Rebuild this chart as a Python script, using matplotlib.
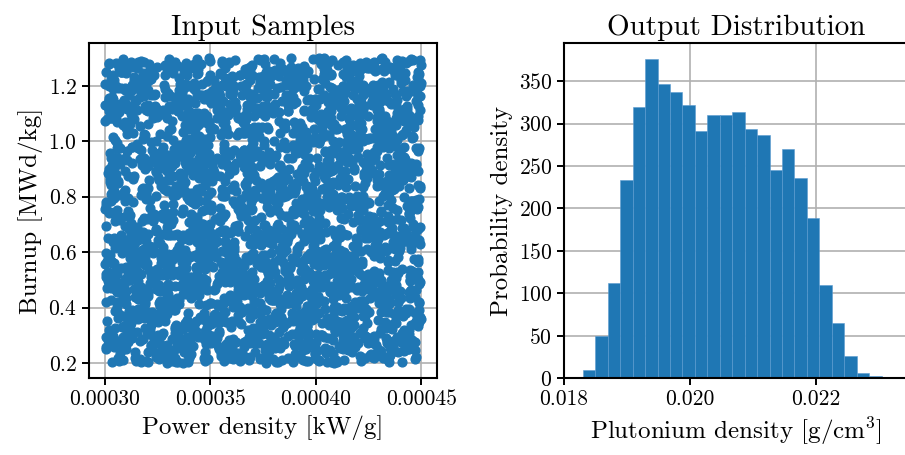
import numpy as np
import matplotlib
matplotlib.use("Agg")
import matplotlib.pyplot as plt

plt.rcParams['font.family'] = 'serif'
plt.rcParams['font.serif'] = ['cmr10']
plt.rcParams['mathtext.fontset'] = 'cm'
plt.rcParams['axes.formatter.use_mathtext'] = True
plt.rcParams['axes.axisbelow'] = True

# input samples: ranges
power_range = [0.00030, 0.00045]   # kW/g
burnup_range = [0.2, 1.3]          # MWd/kg
n_samples = 2800

# output histogram (probability density per bin)
bin_lo, bin_hi = 0.01830, 0.02304
density = [10, 50, 112, 233, 319, 376, 347, 337, 322, 291, 310, 310,
           314, 294, 287, 245, 270, 236, 189, 110, 65, 26, 6, 2]

# individual sample positions cannot be read from the image, so the cloud
# is a uniform sample over the ranges shown
rng = np.random.default_rng(7)
power = rng.uniform(power_range[0], power_range[1], n_samples)
burnup = rng.uniform(burnup_range[0], burnup_range[1], n_samples)

fig = plt.figure(figsize=(9.05, 4.55), dpi=100)
ax1 = fig.add_axes([0.0983, 0.1692, 0.3845, 0.7363])
ax2 = fig.add_axes([0.6232, 0.1692, 0.3801, 0.7363])

ax1.scatter(power, burnup, s=40, color='#1f77b4', zorder=2)
ax1.set_title('Input Samples', fontsize=21)
ax1.set_xlabel('Power density [kW/g]', fontsize=18)
ax1.set_ylabel('Burnup [MWd/kg]', fontsize=18)
ax1.set_xticks([0.00030, 0.00035, 0.00040, 0.00045])
ax1.set_xticklabels(['0.00030', '0.00035', '0.00040', '0.00045'])
ax1.set_yticks([0.2, 0.4, 0.6, 0.8, 1.0, 1.2])

edges = np.linspace(bin_lo, bin_hi, len(density) + 1)
ax2.bar(edges[:-1], density, width=np.diff(edges), align='edge',
        color='#1f77b4', edgecolor='#5b9bd0', linewidth=0.4)
ax2.set_xlim(0.018, 0.02346)
ax2.set_ylim(0, 395)
ax2.set_title('Output Distribution', fontsize=21)
ax2.set_xlabel('Plutonium density [g/cm$^3$]', fontsize=18)
ax2.set_ylabel('Probability density', fontsize=18)
ax2.set_xticks([0.018, 0.020, 0.022])
ax2.set_xticklabels(['0.018', '0.020', '0.022'])
ax2.set_yticks(range(0, 351, 50))

for ax in (ax1, ax2):
    ax.grid(True, color='#b0b0b0', linewidth=1.2)
    ax.tick_params(labelsize=15.5, width=1.4, length=5)
    for sp in ax.spines.values():
        sp.set_linewidth(1.5)

fig.savefig('out.png', dpi=100)
